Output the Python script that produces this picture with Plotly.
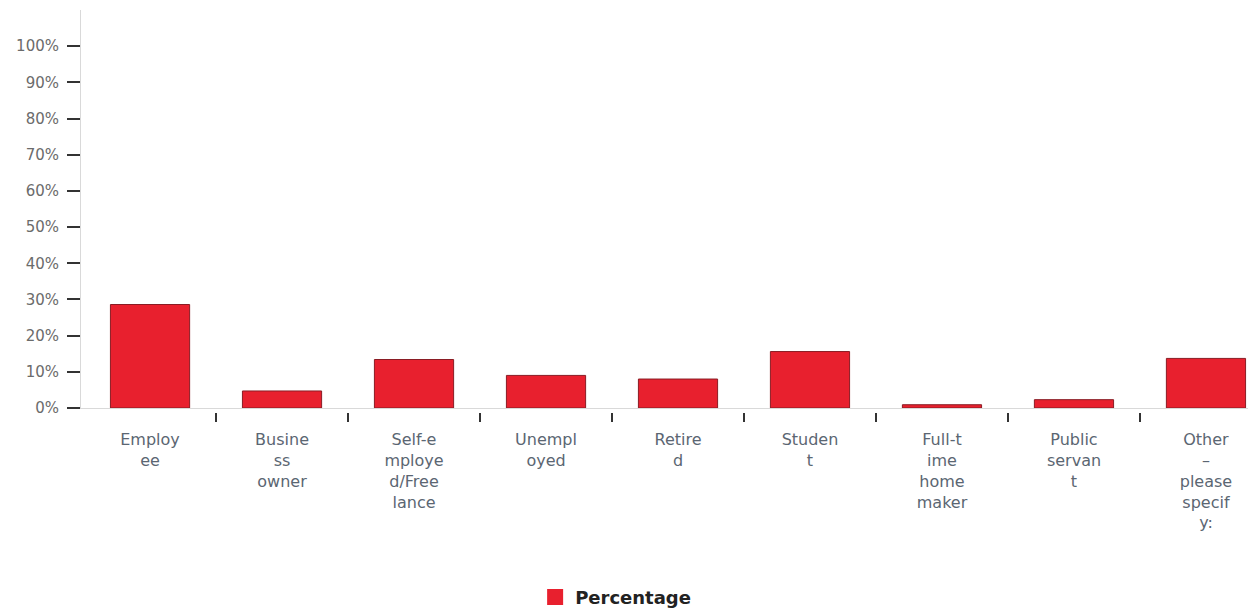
import plotly.graph_objects as go

categories = ["Employ<br>ee", "Busine<br>ss<br>owner", "Self-e<br>mploye<br>d/Free<br>lance",
              "Unempl<br>oyed", "Retire<br>d", "Studen<br>t", "Full-t<br>ime<br>home<br>maker",
              "Public<br>servan<br>t", "Other<br>–<br>please<br>specif<br>y:"]
values = [28.6, 4.7, 13.4, 9.0, 8.0, 15.6, 0.9, 2.3, 13.7]
y_ticks = [0, 10, 20, 30, 40, 50, 60, 70, 80, 90, 100]
series_name = "Percentage"

positions = list(range(len(categories)))
boundaries = [i + 0.5 for i in positions[:-1]]

RED = "#e8202e"
XRANGE = [-0.523, 8.379]

fig = go.Figure()
fig.add_trace(go.Bar(
    x=positions, y=values, width=0.6, name=series_name, showlegend=False,
    marker=dict(color=RED, line=dict(color="#8a1c24", width=1)),
))
# legend entry
fig.add_trace(go.Scatter(
    x=[None], y=[None], mode="markers", name=series_name,
    marker=dict(symbol="square", size=16, color=RED),
))
# boundary tick carrier
fig.add_trace(go.Scatter(
    x=boundaries, y=[0] * len(boundaries), xaxis="x2", mode="markers",
    marker=dict(opacity=0), hoverinfo="skip", showlegend=False,
))

fig.update_layout(
    width=1248, height=605,
    margin=dict(l=73, r=0, t=2, b=201),
    paper_bgcolor="white", plot_bgcolor="white",
    font=dict(family="DejaVu Sans", color="#5b6672"),
    xaxis=dict(
        range=XRANGE, tickmode="array", tickvals=positions, ticktext=categories,
        ticks="", showgrid=False, zeroline=False, showline=True, automargin=False,
        linecolor="#d9d9d9", linewidth=1, tickangle=0,
        tickfont=dict(size=16, color="#5b6672"), ticklabelstandoff=17,
    ),
    xaxis2=dict(
        range=XRANGE, overlaying="x", anchor="free", position=0, automargin=False,
        tickmode="array", tickvals=boundaries, ticks="outside", ticklen=9,
        tickwidth=2, tickcolor="#333333", showticklabels=False,
        showgrid=False, zeroline=False, showline=False,
    ),
    yaxis=dict(
        domain=[0.01, 1], automargin=False,
        range=[0, 110], tickmode="array", tickvals=y_ticks,
        ticktext=[f"{v}%" for v in y_ticks],
        ticks="outside", ticklen=13, tickwidth=2, tickcolor="#333333",
        showgrid=False, zeroline=False, showline=True, linecolor="#d9d9d9",
        linewidth=1, tickfont=dict(size=15, color="#6b6b6b"), ticklabelstandoff=5,
    ),
    legend=dict(
        orientation="h", x=0.455, xanchor="center",
        yref="container", y=0.026, yanchor="middle",
        font=dict(size=18, color="#222222", weight="bold"),
    ),
    bargap=0.4,
)

fig.write_html("out.html")
